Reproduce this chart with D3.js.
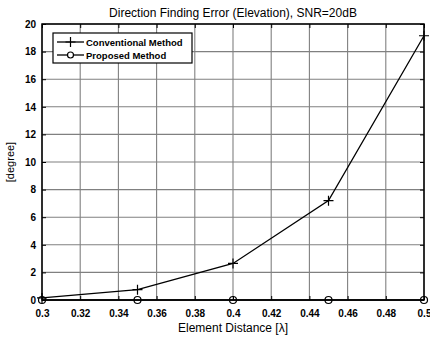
<!DOCTYPE html>
<html>
<head>
<meta charset="utf-8">
<script src="https://cdn.jsdelivr.net/npm/d3@7"></script>
<style>
  body { margin: 0; background: #fff; }
  svg { display: block; font-family: "Liberation Sans", Arial, sans-serif; }
</style>
</head>
<body>
<svg width="430" height="337"></svg>
<script>
const svg = d3.select('svg');

// data
const distances = [0.3, 0.35, 0.4, 0.45, 0.5];
const conventional = [0.15, 0.75, 2.65, 7.2, 19.15];
const proposed = [0, 0, 0, 0, 0];
const xTicks = [0.3, 0.32, 0.34, 0.36, 0.38, 0.4, 0.42, 0.44, 0.46, 0.48, 0.5];
const yTicks = [0, 2, 4, 6, 8, 10, 12, 14, 16, 18, 20];
const seriesNames = ['Conventional Method', 'Proposed Method'];

const margin = {top: 24, right: 6, bottom: 37, left: 42};
const innerW = 430 - margin.left - margin.right;
const innerH = 337 - margin.top - margin.bottom;

const x = d3.scaleLinear().domain([0.3, 0.5]).range([0, innerW]);
const y = d3.scaleLinear().domain([0, 20]).range([innerH, 0]);

const g = svg.append('g').attr('transform', `translate(${margin.left},${margin.top})`);

// grid
g.selectAll('.vgrid').data(xTicks).enter().append('line')
    .attr('x1', d => x(d)).attr('x2', d => x(d))
    .attr('y1', 0).attr('y2', innerH)
    .attr('stroke', '#808080').attr('stroke-width', 1.1);
g.selectAll('.hgrid').data(yTicks).enter().append('line')
    .attr('x1', 0).attr('x2', innerW)
    .attr('y1', d => y(d)).attr('y2', d => y(d))
    .attr('stroke', '#808080').attr('stroke-width', 1.1);

// axes (ticks inward)
const fmt = d => d3.format('')(+d.toFixed(2));
g.append('g').attr('transform', `translate(0,${innerH})`)
    .call(d3.axisBottom(x).tickValues(xTicks).tickFormat(fmt).tickSizeInner(-4).tickSizeOuter(0).tickPadding(10));
g.append('g')
    .call(d3.axisLeft(y).tickValues(yTicks).tickSizeInner(-4).tickSizeOuter(0).tickPadding(6));
g.append('g').attr('transform', `translate(${innerW},0)`)
    .call(d3.axisRight(y).tickValues(yTicks).tickFormat('').tickSizeInner(-4).tickSizeOuter(0));
g.append('g')
    .call(d3.axisTop(x).tickValues(xTicks).tickFormat('').tickSizeInner(-4).tickSizeOuter(0));

g.selectAll('.domain').remove();
g.selectAll('.tick line').attr('stroke', '#000');
g.selectAll('.tick text').attr('fill', '#000').attr('font-size', 10).attr('font-weight', 'bold')
    .attr('font-family', '"Liberation Sans", Arial, sans-serif');

g.append('rect').attr('width', innerW).attr('height', innerH)
    .attr('fill', 'none').attr('stroke', '#000').attr('stroke-width', 1.5);

// conventional line
const line = d3.line().x((d, i) => x(distances[i])).y(d => y(d));
g.append('path').datum(conventional).attr('d', line)
    .attr('fill', 'none').attr('stroke', '#000').attr('stroke-width', 1.3);
g.selectAll('.plus').data(conventional).enter().append('path')
    .attr('transform', (d, i) => `translate(${x(distances[i])},${y(d)})`)
    .attr('d', 'M-5,0H5M0,-5V5').attr('stroke', '#000').attr('stroke-width', 1.2);

// proposed line
g.append('path').datum(proposed).attr('d', line)
    .attr('fill', 'none').attr('stroke', '#000').attr('stroke-width', 1.3);
g.selectAll('.circ').data(proposed).enter().append('circle')
    .attr('cx', (d, i) => x(distances[i])).attr('cy', d => y(d)).attr('r', 3.5)
    .attr('fill', 'none').attr('stroke', '#000').attr('stroke-width', 1.2);

// legend
const lg = g.append('g').attr('transform', 'translate(11,9)');
lg.append('rect').attr('width', 139).attr('height', 30)
    .attr('fill', '#fff').attr('stroke', '#000').attr('stroke-width', 1.2);
seriesNames.forEach((name, i) => {
    const ly = 9 + i * 13;
    lg.append('line').attr('x1', 4).attr('x2', 31).attr('y1', ly).attr('y2', ly)
        .attr('stroke', '#000').attr('stroke-width', 1.3);
    if (i === 0) {
        lg.append('path').attr('transform', `translate(17.5,${ly})`)
            .attr('d', 'M-5,0H5M0,-5V5').attr('stroke', '#000').attr('stroke-width', 1.2);
    } else {
        lg.append('circle').attr('cx', 17.5).attr('cy', ly).attr('r', 3)
            .attr('fill', '#fff').attr('stroke', '#000').attr('stroke-width', 1.2);
    }
    lg.append('text').attr('x', 33).attr('y', ly + 3.5).text(name)
        .attr('font-size', 9.5).attr('font-weight', 'bold');
});

// title and labels
svg.append('text').attr('x', margin.left + innerW / 2).attr('y', 17)
    .attr('text-anchor', 'middle').attr('font-size', 12).text('Direction Finding Error (Elevation), SNR=20dB');
svg.append('text').attr('x', margin.left + innerW / 2).attr('y', 332)
    .attr('text-anchor', 'middle').attr('font-size', 12).text('Element Distance [λ]');
svg.append('text').attr('transform', `translate(14,${margin.top + innerH / 2}) rotate(-90)`)
    .attr('text-anchor', 'middle').attr('font-size', 11).text('[degree]');
</script>
</body>
</html>
